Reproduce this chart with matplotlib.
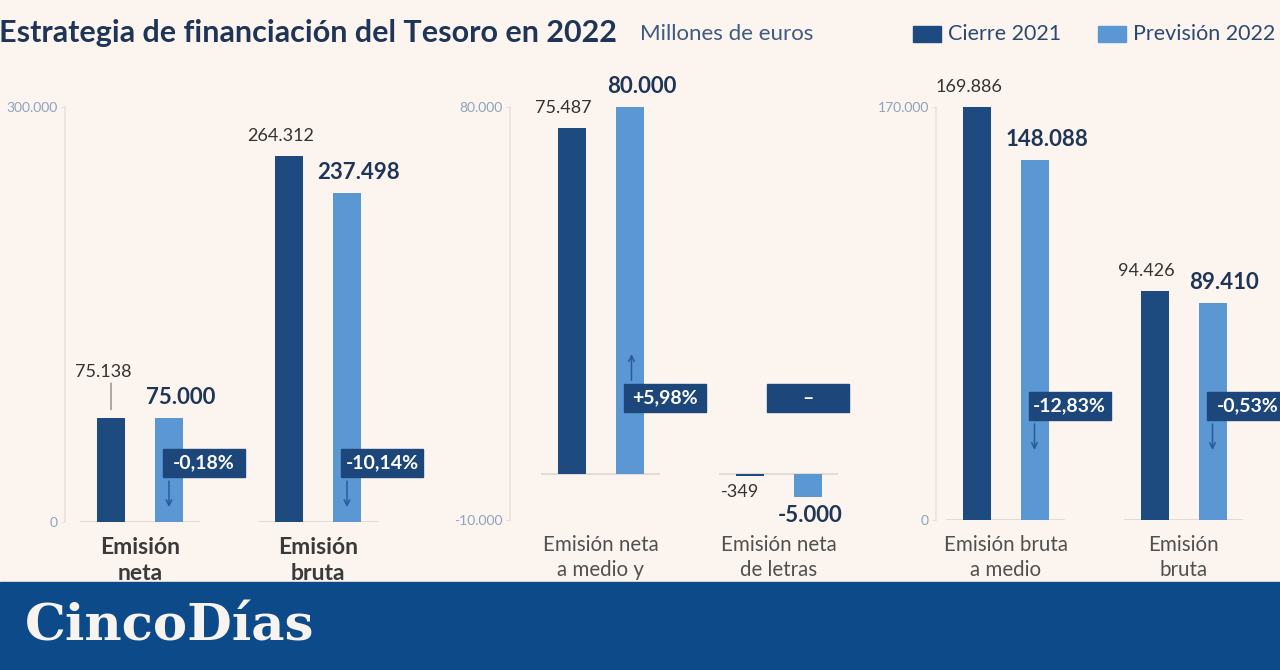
import matplotlib
matplotlib.use("Agg")
import matplotlib.pyplot as plt
from matplotlib.patches import Rectangle

plt.rcParams["font.family"] = ["Lato", "DejaVu Sans"]

# data (millones de euros)
series = ["Cierre 2021", "Previsión 2022"]

p1_cats = ["Emisión\nneta", "Emisión\nbruta"]
p1_2021 = [75138, 264312]
p1_2022 = [75000, 237498]
p1_pct = ["-0,18%", "-10,14%"]

p2_cats = ["Emisión neta\na medio y\nlargo plazo", "Emisión neta\nde letras"]
p2_2021 = [75487, -349]
p2_2022 = [80000, -5000]
p2_pct = ["+5,98%", "–"]

p3_cats = ["Emisión bruta\na medio\ny largo plazo", "Emisión\nbruta\nde letras"]
p3_2021 = [169886, 94426]
p3_2022 = [148088, 89410]
p3_pct = ["-12,83%", "-0,53%"]

p1_ticks = [0, 300000]
p2_ticks = [-10000, 80000]
p3_ticks = [0, 170000]

BG = "#fcf5ef"
DARK = "#1d4b80"
LIGHT = "#5b98d3"
BOX = "#1d477a"
NAVY = "#1f3557"
W, H = 1280, 670

fig = plt.figure(figsize=(12.8, 6.7), dpi=100, facecolor=BG)


def fmt(v):
    return f"{v:,}".replace(",", ".")


def panel(x0, x1, first, y_top, y_bot, cats, v21, v22, ticks, bold_cats=False):
    ax = fig.add_axes([x0 / W, (H - y_bot) / H, (x1 - x0) / W, (y_bot - y_top) / H])
    ax.set_facecolor("none")
    ax.set_ylim(ticks[0], ticks[1])
    # groups spaced 178 px apart, first group `first` px right of the axis
    ax.set_xlim(-first / 178, -first / 178 + (x1 - x0) / 178)
    for s in ["top", "right", "bottom"]:
        ax.spines[s].set_visible(False)
    ax.spines["left"].set_color("#ebe1dc")
    ax.spines["left"].set_linewidth(1.2)
    ax.set_xticks([])
    ax.set_yticks(ticks)
    ax.set_yticklabels([fmt(t) for t in ticks])
    ax.tick_params(axis="y", length=3, color="#ebe1dc", labelcolor="#8ea2bd",
                   labelsize=10, pad=2)

    off, bw = 29 / 178, 28 / 178
    for i, cat in enumerate(cats):
        ax.hlines(0, i - 0.335, i + 0.335, color="#e2dcd8", lw=1.5, zorder=1)
        ax.bar(i - off, v21[i], bw, color=DARK, zorder=2)
        ax.bar(i + off, v22[i], bw, color=LIGHT, zorder=2)

        # value labels
        if v21[i] >= 0:
            dy = 38 if (bold_cats and i == 0) else 12
            ax.annotate(fmt(v21[i]), (i - off, v21[i]), xytext=(-8, dy),
                        textcoords="offset pixels", ha="center", va="bottom",
                        fontsize=13, color="#333333")
            if bold_cats and i == 0:
                ax.annotate("", (i - off, v21[i]), xytext=(0, 35),
                            textcoords="offset pixels",
                            arrowprops=dict(arrowstyle="-", color="#888888", lw=1,
                                            shrinkA=0, shrinkB=6))
        else:
            ax.annotate(fmt(v21[i]), (i - off, v21[i]), xytext=(-10, -8),
                        textcoords="offset pixels", ha="center", va="top",
                        fontsize=13, color="#333333")
        if v22[i] >= 0:
            ax.annotate(fmt(v22[i]), (i + off, v22[i]), xytext=(12, 10),
                        textcoords="offset pixels", ha="center", va="bottom",
                        fontsize=16, fontweight="bold", color=NAVY)
        else:
            ax.annotate(fmt(v22[i]), (i + off, v22[i]), xytext=(3, -8),
                        textcoords="offset pixels", ha="center", va="top",
                        fontsize=16, fontweight="bold", color=NAVY)

        # category labels
        ax.annotate(cat, (i, 0), xycoords=("data", "axes fraction"),
                    xytext=(0, -15), textcoords="offset pixels", ha="center",
                    va="top", linespacing=1.3,
                    fontsize=16.5 if bold_cats else 14.8,
                    fontweight="bold" if bold_cats else "normal",
                    color="#3a3a3a" if bold_cats else "#505050")

    return ax, off


axes = [
    panel(65, 420, 75, 107, 522, p1_cats, p1_2021, p1_2022, p1_ticks, True),
    panel(510, 870, 90.5, 107, 520, p2_cats, p2_2021, p2_2022, p2_ticks),
    panel(936, 1280, 69.5, 107, 520, p3_cats, p3_2021, p3_2022, p3_ticks),
]
pct_sets = [p1_pct, p2_pct, p3_pct]
box_fys = [0.142, 0.295, 0.276]

ov = fig.add_axes([0, 0, 1, 1])
ov.set_xlim(0, W)
ov.set_ylim(0, H)
ov.axis("off")
ov.set_zorder(10)
ov.patch.set_alpha(0)

# percentage boxes and arrows
for (ax, off), pcts, fy in zip(axes, pct_sets, box_fys):
    for i, p in enumerate(pcts):
        cx = ax.transData.transform((i + off, 0))[0]
        cy = ax.transAxes.transform((0, fy))[1]
        left = cx - 41 if p == "–" else cx - 6
        ov.add_patch(Rectangle((left, cy - 14), 82, 28, color=BOX, zorder=3))
        ov.text(left + 41, cy, p, ha="center", va="center", color="white",
                fontsize=14, fontweight="bold", zorder=4)
        if p.startswith("-"):
            ov.annotate("", (cx, cy - 44), xytext=(cx, cy - 18),
                        arrowprops=dict(arrowstyle="->", color="#2a5b94", lw=1.1,
                                        shrinkA=0, shrinkB=0))
        elif p.startswith("+"):
            ov.annotate("", (cx + 2, cy + 44), xytext=(cx + 2, cy + 18),
                        arrowprops=dict(arrowstyle="->", color="#2a5b94", lw=1.1,
                                        shrinkA=0, shrinkB=0))

# title, unit, legend
ov.text(-1, H - 33, "Estrategia de financiación del Tesoro en 2022", ha="left",
        va="center", fontsize=22, fontweight="bold", color=NAVY)
ov.text(640, H - 34, "Millones de euros", ha="left", va="center", fontsize=16,
        color="#3e5a80")
for x, col, name in [(913, DARK, series[0]), (1098, LIGHT, series[1])]:
    ov.add_patch(Rectangle((x, H - 42), 28, 16, color=col))
    ov.text(x + 35, H - 34, name, ha="left", va="center", fontsize=15.5,
            color="#2c4a70")

# banner
ov.add_patch(Rectangle((0, 0), W, 88, color="#0c4a8a", zorder=20))
ov.text(25, 43, "CincoDías", ha="left", va="center", fontsize=37,
        fontweight="bold", family="DejaVu Serif", color="#f7f3ee", zorder=21)

fig.savefig("out.png", dpi=100, facecolor=BG)
